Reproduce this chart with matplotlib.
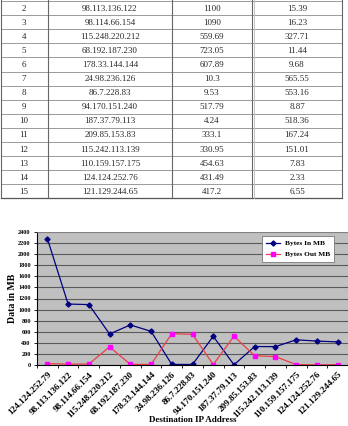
import numpy as np
import matplotlib.pyplot as plt

# ---------------- data ----------------
row_no = list(range(1, 16))
dest_ip = ['124.124.252.79', '98.113.136.122', '98.114.66.154', '115.248.220.212',
           '68.192.187.230', '178.33.144.144', '24.98.236.126', '86.7.228.83',
           '94.170.151.240', '187.37.79.113', '209.85.153.83', '115.242.113.139',
           '110.159.157.175', '124.124.252.76', '121.129.244.65']
bytes_in = [2280, 1100, 1090, 559.69, 723.05, 607.89, 10.3, 9.53, 517.79, 4.24,
            333.1, 330.95, 454.63, 431.49, 417.2]
bytes_out = [25, 15.39, 16.23, 327.71, 11.44, 9.68, 565.55, 553.16, 8.87, 518.36,
             167.24, 151.01, 7.83, 2.33, 6.55]
in_txt = ['2280', '1100', '1090', '559.69', '723.05', '607.89', '10.3', '9.53', '517.79',
          '4.24', '333.1', '330.95', '454.63', '431.49', '417.2']
out_txt = ['25', '15.39', '16.23', '327.71', '11.44', '9.68', '565.55', '553.16', '8.87',
           '518.36', '167.24', '151.01', '7.83', '2.33', '6.55']

plt.rcParams['font.family'] = 'Liberation Serif'

W, H = 348, 426
fig = plt.figure(figsize=(W / 100, H / 100), dpi=100)

#--------------------- table (rows 2-15 visible) --------------------------
tab = fig.add_axes([0, 0, 1, 1])
tab.set_xlim(0, W)
tab.set_ylim(H, 0)
tab.axis('off')

top = 1.0
rh = 14.1
col_x = [1, 48, 172, 252, 342]
col_c = [24, 110, 212, 297]
shown = range(1, 15)
nrows = len(shown)
bottom = top + nrows * rh

for k, i in enumerate(shown):
    yc = top + (k + 0.5) * rh
    vals = [str(row_no[i]), dest_ip[i], in_txt[i], out_txt[i]]
    for cx, v in zip(col_c, vals):
        tab.text(cx, yc + 0.5, v, ha='center', va='center', fontsize=6.5, color='#2a2a2a')
    tab.plot([col_x[0], col_x[-1]], [top + k * rh] * 2, color='#9a9a9a', lw=0.7)
tab.plot([col_x[0], col_x[-1]], [bottom, bottom], color='#555555', lw=0.9)
for cx in col_x:
    tab.plot([cx, cx], [0, bottom], color='#666666', lw=0.8)
tab.plot([col_x[3] + 2, col_x[3] + 2], [0, bottom], color='#bbbbbb', lw=0.6)

#--------------------- line chart --------------------------
ax = fig.add_axes([37 / W, 61 / H, 1 - 37 / W, 133 / H])
ax.set_facecolor('#c0c0c0')
x = np.arange(len(dest_ip))
ax.plot(x, bytes_in, color='#000080', lw=0.9, marker='D', ms=2.6, label='Bytes In MB')
ax.plot(x, bytes_out, color='#e8404a', lw=0.9, marker='s', ms=3.2,
        mfc='#ff00ff', mec='#ff00ff', label='Bytes Out MB')

ax.set_xlim(-0.5, len(x) - 0.5)
ax.set_ylim(0, 2400)
ax.set_yticks(np.arange(0, 2401, 200))
ax.yaxis.grid(True, color='#5a5a5a', lw=0.8)
ax.set_axisbelow(True)
ax.set_xticks(x)
ax.set_xticklabels(dest_ip, rotation=45, ha='right', rotation_mode='anchor',
                   fontsize=6.6, fontweight='bold')
ax.set_xticks(np.arange(-0.5, len(x)), minor=True)
ax.tick_params(axis='x', which='major', length=0, pad=4)
ax.tick_params(axis='x', which='minor', length=2.5, width=0.6)
ax.tick_params(axis='y', length=2.5, width=0.6, pad=2, labelsize=4.5)
for lab in ax.get_yticklabels():
    lab.set_fontweight('bold')
for s in ['top', 'right']:
    ax.spines[s].set_color('#8a8a8a')
    ax.spines[s].set_linewidth(0.6)
ax.spines['left'].set_linewidth(0.8)
ax.spines['bottom'].set_linewidth(0.8)

ax.set_ylabel('Data in MB', fontsize=7, fontweight='bold', labelpad=1)
ax.set_xlabel('Destination IP Address', fontsize=6.5, fontweight='bold', labelpad=-3)

leg = ax.legend(loc='upper right', bbox_to_anchor=(0.955, 0.97),
                prop={'weight': 'bold', 'size': 5.3}, frameon=True, fancybox=False,
                handlelength=1.9, borderpad=0.55, labelspacing=0.7, borderaxespad=0,
                handletextpad=0.6)
leg.get_frame().set_edgecolor('#777777')
leg.get_frame().set_linewidth(0.6)
leg.get_frame().set_facecolor('white')
leg.get_frame().set_alpha(1)

fig.savefig('out.png', dpi=100)
